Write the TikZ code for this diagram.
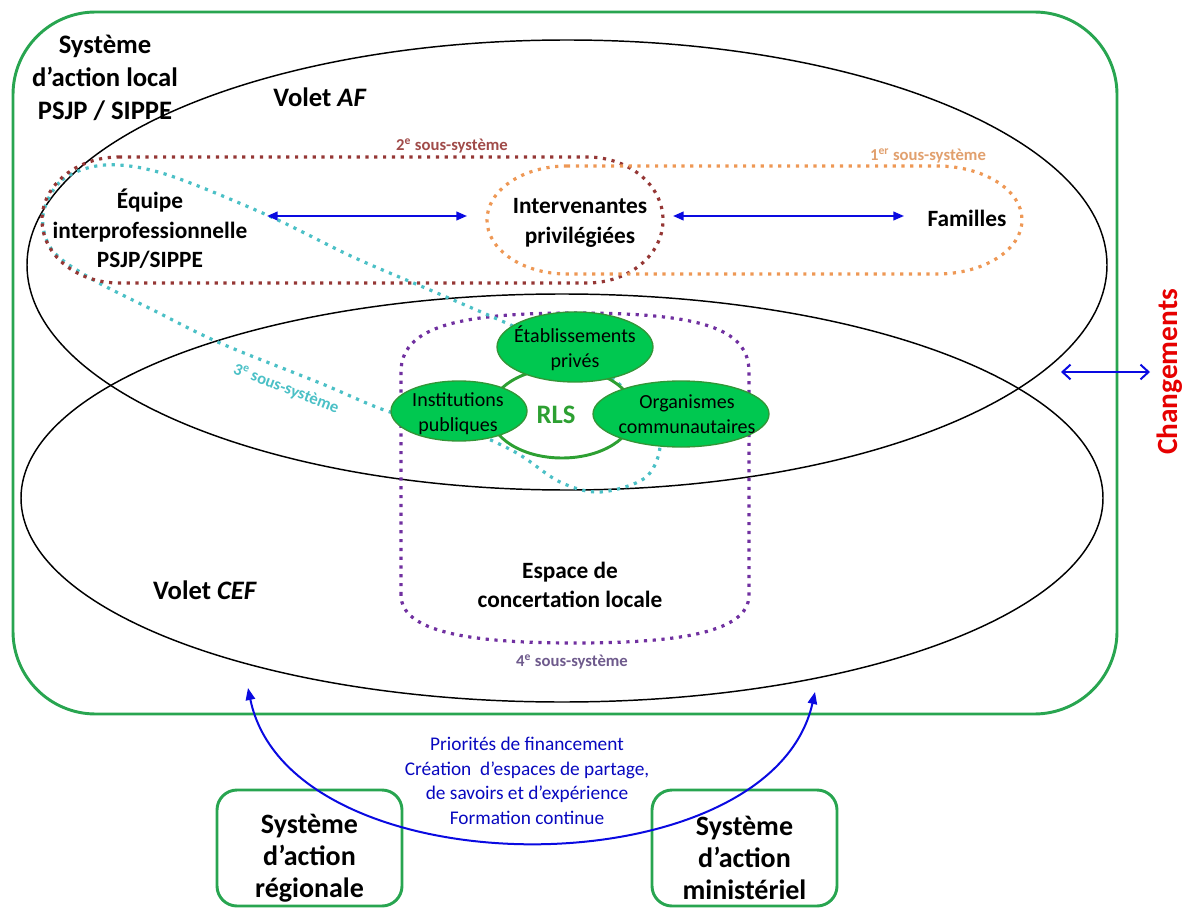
\documentclass[tikz,border=0pt]{standalone}
\usepackage{fontspec}
\setmainfont{Carlito}
\usetikzlibrary{arrows.meta,shapes.geometric}
\definecolor{framegreen}{RGB}{40,165,80}
\definecolor{brownss}{RGB}{149,55,53}
\definecolor{orangess}{RGB}{238,152,85}
\definecolor{orangelbl}{RGB}{225,160,110}
\definecolor{tealss}{RGB}{75,192,198}
\definecolor{purpless}{RGB}{112,48,160}
\definecolor{purplelbl}{RGB}{110,90,140}
\definecolor{arrowblue}{RGB}{10,10,225}
\definecolor{gfill}{RGB}{0,200,80}
\definecolor{gborder}{RGB}{50,150,55}
\definecolor{rlsgreen}{RGB}{45,160,50}
\definecolor{chred}{RGB}{230,0,0}
\begin{document}
\begin{tikzpicture}[x=0.75pt,y=-0.75pt,
  volet/.style={draw=black, line width=1.1pt},
  dotss/.style={line width=2.4pt, dash pattern=on 2.4pt off 4.2pt},
  lbl/.style={font=\bfseries\fontsize{17.5}{22}\selectfont, align=center, inner sep=0},
  biglbl/.style={font=\bfseries\fontsize{20}{24.7}\selectfont, align=center, inner sep=0},
  boxlbl/.style={font=\bfseries\fontsize{21}{24}\selectfont, align=center, inner sep=0},
  sslbl/.style={font=\bfseries\fontsize{12.5}{15}\selectfont, inner sep=0},
  gell/.style={ellipse, draw=gborder, fill=gfill, line width=1pt, inner sep=0},
  gtext/.style={font=\fontsize{15}{18.75}\selectfont, align=center, inner sep=0},
  sysbox/.style={draw=framegreen, line width=2.2pt, rounded corners=15pt},
  biarrow/.style={draw=arrowblue, line width=1.5pt, {Triangle[length=8pt,width=6.5pt]}-{Triangle[length=8pt,width=6.5pt]}},
  bluetext/.style={font=\fontsize{14.5}{18.4}\selectfont, text=arrowblue!85!black, align=center, inner sep=0}
]
\useasboundingbox (0,0) rectangle (1188,909);

% outer frame
\draw[draw=framegreen, line width=2.2pt, rounded corners=62pt] (13,12) rectangle (1117,714);

% volets
\draw[volet] (567,265) ellipse [x radius=540, y radius=225];
\draw[volet] (562,498) ellipse [x radius=541, y radius=204];

% 4e sous-systeme (purple)
\draw[dotss, draw=purpless] (401,595) -- (401,372)
  .. controls (401,328) and (455,313) .. (575,313)
  .. controls (700,313) and (749,328) .. (749,372)
  -- (749,595)
  .. controls (749,632) and (680,643) .. (575,643)
  .. controls (470,643) and (401,632) .. (401,595);

% 3e sous-systeme (teal)
\draw[dotss, draw=tealss] plot[smooth cycle, tension=0.55] coordinates {
  (43,215) (62,180) (105,165) (165,174) (267,215) (353,257) (437,293)
  (530,334) (610,377) (650,418) (660,447) (645,478) (600,492) (560,482)
  (515,452) (460,428) (390,412) (320,383) (220,343) (153,310) (90,278) (52,250)};

% 2e sous-systeme (brown)
\draw[dotss, draw=brownss] (119,157) -- (587,157)
  arc[start angle=-90, end angle=90, x radius=76, y radius=63]
  -- (119,283)
  arc[start angle=90, end angle=270, x radius=77, y radius=63] -- cycle;

% 1er sous-systeme (orange)
\draw[dotss, draw=orangess] (567,166) -- (937,166)
  arc[start angle=-90, end angle=90, x radius=85, y radius=54]
  -- (567,274)
  arc[start angle=90, end angle=270, x radius=80, y radius=54] -- cycle;

% RLS ring
\draw[draw=rlsgreen, line width=2.2pt] (562,413) ellipse [x radius=72, y radius=45];

% green ellipses
\node[gell, minimum width=117pt, minimum height=52.5pt] (etab) at (575,347) {};
\node[gell, minimum width=102pt, minimum height=45pt] (inst) at (459,411) {};
\node[gell, minimum width=132pt, minimum height=49.5pt] (orga) at (681,414) {};
\node[gtext] (etabt) at (575,348) {Établissements\\privés};
\node[gtext] (instt) at (458,414) {Institutions\\publiques};
\node[gtext] (orgat) at (687,414) {Organismes\\communautaires};
\node[font=\bfseries\fontsize{20}{24}\selectfont, text=rlsgreen, inner sep=0] (rls) at (556,415) {RLS};

% labels
\node[biglbl] (sal) at (105,78) {Système\\d’action local\\PSJP / SIPPE};
\node[biglbl] (af) at (320,97) {Volet \textit{AF}};
\node[biglbl] (cef) at (205,590) {Volet \textit{CEF}};
\node[lbl] (equipe) at (150,229) {Équipe\\interprofessionnelle\\PSJP/SIPPE};
\node[lbl] (interv) at (580,223) {Intervenantes\\privilégiées};
\node[lbl] (fam) at (967,218) {Familles};
\node[lbl] (ecl) at (570,585) {Espace de\\concertation locale};

\node[sslbl, text=brownss!90!white] (ss2) at (452,146) {2\textsuperscript{e} sous-système};
\node[sslbl, text=orangelbl] (ss1) at (928,156) {1\textsuperscript{er} sous-système};
\node[sslbl, text=tealss, rotate=-21] (ss3) at (286,389) {3\textsuperscript{e} sous-système};
\node[sslbl, text=purplelbl] (ss4) at (572,662) {4\textsuperscript{e} sous-système};

% changements
\node[font=\bfseries\fontsize{22}{26}\selectfont, text=chred, rotate=90, inner sep=0] (chg) at (1170,372) {Changements};
\coordinate (volets) at (1061,372);
\draw[draw=arrowblue, line width=1.5pt, {Straight Barb[length=6pt,width=11pt]}-{Straight Barb[length=6pt,width=11pt]}] (volets) -- ([shift={(-20,0)}]chg.center);

% arrows between actors
\draw[biarrow] ([shift={(117,-13)}]equipe.center) -- ([shift={(-113,-7)}]interv.center);
\draw[biarrow] ([shift={(93,-7)}]interv.center) -- ([shift={(-63,-2)}]fam.center);

% lower systems
\draw[sysbox] (217,790) rectangle (402,906);
\draw[sysbox] (652,790) rectangle (837,906);
\node[boxlbl] (reg) at (309.5,858) {Système\\d’action\\régionale};
\node[boxlbl] (min) at (744.5,858) {Système\\d’action\\ministériel};

\node[bluetext] (prio) at (527,781) {Priorités de financement\\Création~ d’espaces de partage,\\de savoirs et d’expérience\\Formation continue};

\coordinate (cefL) at (248,688);
\coordinate (cefR) at (815,692);
\draw[draw=arrowblue, line width=1.5pt, {Triangle[length=9pt,width=7pt]}-{Triangle[length=9pt,width=7pt]}] (cefL) .. controls (290,892) and (770,892) .. (cefR);
\end{tikzpicture}
\end{document}
